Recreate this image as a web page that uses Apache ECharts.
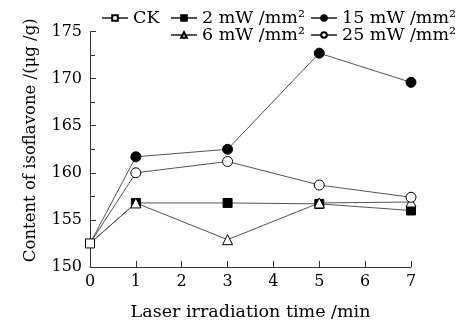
<!DOCTYPE html>
<html>
<head>
<meta charset="utf-8">
<script src="https://cdn.jsdelivr.net/npm/echarts@6/dist/echarts.min.js"></script>
<style>
html,body{margin:0;padding:0;background:#fff;}
#c{width:461px;height:326px;}
</style>
</head>
<body>
<div id="c"></div>
<script>
var times = [0, 1, 3, 5, 7];
var ckName = 'CK';
var ckValues = [152.5];
var names = ['2 mW /mm²', '15 mW /mm²', '6 mW /mm²', '25 mW /mm²'];
var v2 = [152.5, 156.8, 156.8, 156.7, 156.0];
var v15 = [152.5, 161.7, 162.5, 172.7, 169.6];
var v6 = [152.5, 156.8, 152.9, 156.8, 156.9];
var v25 = [152.5, 160.0, 161.2, 158.7, 157.4];
var xTicks = [0, 1, 2, 3, 4, 5, 6, 7];
var yTicks = [150, 155, 160, 165, 170, 175];

var FONT = 'DejaVu Serif';
var LINE = '#555';
function pts(vals) {
  return vals.map(function (v, i) {
    var d = { value: [times[i], v] };
    if (i === 0) d.symbol = 'none';
    return d;
  });
}
function ser(name, vals, symbol, filled, size) {
  return {
    name: name, type: 'line', data: pts(vals), symbol: symbol, symbolSize: size,
    lineStyle: { color: LINE, width: 1 },
    itemStyle: { color: filled ? '#000' : '#fff', borderColor: '#000', borderWidth: 1 },
    emphasis: { disabled: true }, animation: false
  };
}
var series = [
  ser(names[0], v2, 'rect', true, 9),
  ser(names[1], v15, 'circle', true, 10),
  ser(names[2], v6, 'triangle', false, 10),
  ser(names[3], v25, 'circle', false, 10),
  {
    name: ckName, type: 'line', data: ckValues.map(function (v, i) { return [times[i], v]; }),
    symbol: 'rect', symbolSize: 9, z: 5,
    lineStyle: { color: LINE, width: 1 },
    itemStyle: { color: '#fff', borderColor: '#000', borderWidth: 1 },
    animation: false
  }
];
var legendText = { fontFamily: FONT, fontSize: 17.5, color: '#000' };
function leg(name, left, top) {
  return { data: [name], left: left, top: top, itemWidth: 26, itemHeight: 7, itemGap: 0,
           textStyle: legendText, padding: 0, selectedMode: false };
}
var chart = echarts.init(document.getElementById('c'));
chart.setOption({
  backgroundColor: '#fff',
  animation: false,
  legend: [
    leg(ckName, 101, 9),
    leg(names[0], 170, 9),
    leg(names[1], 310, 9),
    leg(names[2], 170, 26),
    leg(names[3], 310, 26)
  ],
  grid: { left: 90, right: 50, top: 31.5, bottom: 53 },
  xAxis: {
    type: 'value', min: xTicks[0], max: xTicks[xTicks.length - 1], interval: 1,
    name: 'Laser irradiation time /min', nameLocation: 'middle', nameGap: 36,
    nameTextStyle: { fontFamily: FONT, fontSize: 17.5, color: '#000' },
    axisLine: { lineStyle: { color: '#333', width: 1 } },
    axisTick: { inside: true, length: 6, lineStyle: { color: '#333' } },
    axisLabel: { fontFamily: FONT, fontSize: 16, color: '#000', margin: 7 },
    splitLine: { show: false }
  },
  yAxis: {
    type: 'value', min: yTicks[0], max: yTicks[yTicks.length - 1], interval: 5,
    name: 'Content of isoflavone /(μg /g)', nameLocation: 'middle', nameGap: 51,
    nameTextStyle: { fontFamily: FONT, fontSize: 16.5, color: '#000', padding: [0, 0, 0, 18] },
    axisLine: { show: true, lineStyle: { color: '#333', width: 1 } },
    axisTick: { show: true, inside: true, length: 6, lineStyle: { color: '#333' } },
    minorTick: { show: true, splitNumber: 2, length: 5, lineStyle: { color: '#333' } },
    axisLabel: { fontFamily: FONT, fontSize: 16, color: '#000', margin: 8 },
    splitLine: { show: false }
  },
  series: series
});
</script>
</body>
</html>
